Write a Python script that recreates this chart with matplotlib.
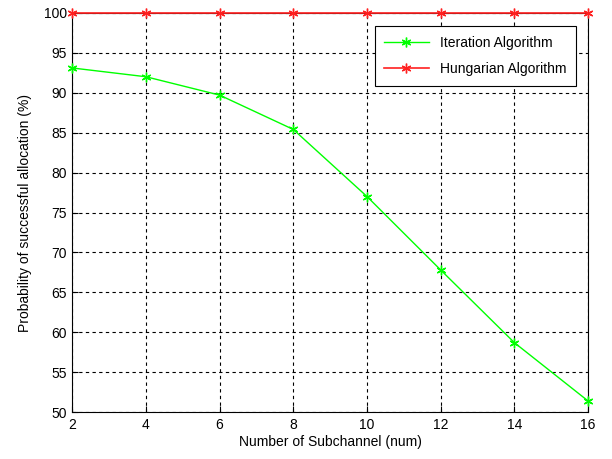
import numpy as np
import matplotlib.pyplot as plt

plt.rcParams['font.family'] = ['Liberation Sans', 'DejaVu Sans']

# data
subchannels = [2, 4, 6, 8, 10, 12, 14, 16]
iteration = [93.1, 92.0, 89.7, 85.4, 77.0, 67.8, 58.7, 51.4]
hungarian = [100, 100, 100, 100, 100, 100, 100, 100]

fig = plt.figure(figsize=(6.12, 4.59), dpi=100)
ax = fig.add_axes([0.118, 0.102, 0.843, 0.870])

star = (6, 2, 0)  # matlab-style asterisk
ax.plot(subchannels, iteration, color='#00ff00', marker=star, markersize=7,
        markeredgewidth=1, linewidth=1, label='Iteration Algorithm',
        clip_on=False, zorder=5)
ax.plot(subchannels, hungarian, color='#ff2020', marker=star, markersize=7,
        markeredgewidth=1, linewidth=1.2, label='Hungarian Algorithm',
        clip_on=False, zorder=5)

ax.set_xlim(2, 16)
ax.set_ylim(50, 100)
ax.set_xticks(np.arange(2, 17, 2))
ax.set_yticks(np.arange(50, 101, 5))
ax.grid(True, color='black', linestyle=(0, (3, 3)), linewidth=0.8)
ax.tick_params(direction='in', labelsize=10, length=4, pad=4)
for s in ax.spines.values():
    s.set_linewidth(0.8)

ax.set_xlabel('Number of Subchannel (num)', fontsize=10, labelpad=2)
ax.set_ylabel('Probability of successful allocation (%)', fontsize=10, labelpad=8)

leg = ax.legend(loc='upper right', fontsize=10, fancybox=False, framealpha=1,
                edgecolor='black', bbox_to_anchor=(0.99, 0.985),
                handlelength=3.2, borderpad=0.7, labelspacing=0.9)
leg.get_frame().set_linewidth(0.8)

fig.savefig('out.png', dpi=100)
